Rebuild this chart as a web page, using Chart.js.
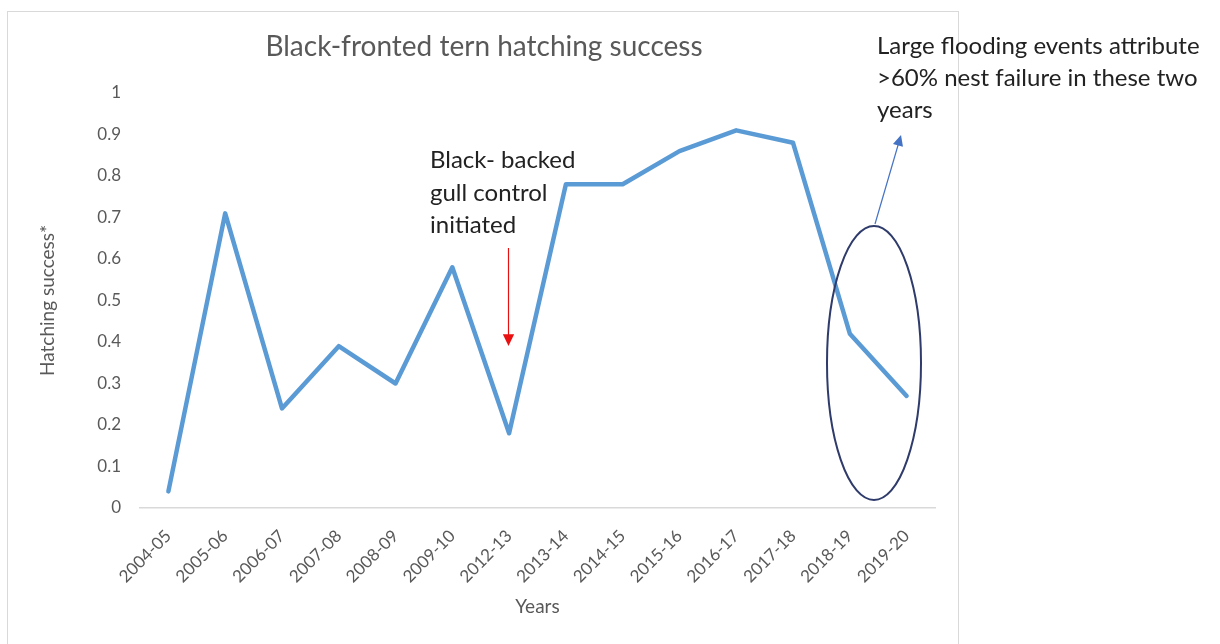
<!DOCTYPE html>
<html>
<head>
<meta charset="utf-8">
<script src="https://cdn.jsdelivr.net/npm/chart.js@4.4.1/dist/chart.umd.min.js"></script>
<style>
  html, body { margin: 0; padding: 0; background: #fff; }
  #wrap { width: 1220px; height: 644px; }
</style>
</head>
<body>
<div id="wrap"><canvas id="ternChart" width="1220" height="644"></canvas></div>
<script>
const seasons = ['2004-05', '2005-06', '2006-07', '2007-08', '2008-09', '2009-10', '2012-13',
                 '2013-14', '2014-15', '2015-16', '2016-17', '2017-18', '2018-19', '2019-20'];
const hatchingSuccess = [0.04, 0.71, 0.24, 0.39, 0.30, 0.58, 0.18, 0.78, 0.78, 0.86, 0.91, 0.88, 0.42, 0.27];
const yTicks = [0, 0.1, 0.2, 0.3, 0.4, 0.5, 0.6, 0.7, 0.8, 0.9, 1];

const FONT = 'Lato, "Open Sans", sans-serif';
const GREY = '#595959';

function arrow(ctx, x1, y1, x2, y2, color, head) {
    const a = Math.atan2(y2 - y1, x2 - x1);
    ctx.save();
    ctx.strokeStyle = color;
    ctx.fillStyle = color;
    ctx.lineWidth = 1.2;
    ctx.beginPath();
    ctx.moveTo(x1, y1);
    ctx.lineTo(x2 - Math.cos(a) * head * 0.8, y2 - Math.sin(a) * head * 0.8);
    ctx.stroke();
    ctx.beginPath();
    ctx.moveTo(x2, y2);
    ctx.lineTo(x2 - head * Math.cos(a - 0.45), y2 - head * Math.sin(a - 0.45));
    ctx.lineTo(x2 - head * Math.cos(a + 0.45), y2 - head * Math.sin(a + 0.45));
    ctx.closePath();
    ctx.fill();
    ctx.restore();
}

function lines(ctx, list, x, y, step) {
    list.forEach((t, i) => ctx.fillText(t, x, y + i * step));
}

// frame, title and the two call-outs
const notes = {
    id: 'notes',
    beforeDraw(chart) {
        const ctx = chart.ctx;
        ctx.save();
        ctx.strokeStyle = '#d9d9d9';
        ctx.lineWidth = 1;
        ctx.strokeRect(7.5, 11.5, 951, 700);
        ctx.restore();
    },
    afterDraw(chart) {
        const ctx = chart.ctx;
        ctx.save();
        ctx.fillStyle = GREY;
        ctx.font = '28px ' + FONT;
        ctx.textAlign = 'center';
        ctx.textBaseline = 'middle';
        ctx.fillText('Black-fronted tern hatching success', 484, 47);

        ctx.fillStyle = '#222';
        ctx.font = '24px ' + FONT;
        ctx.textAlign = 'left';
        ctx.textBaseline = 'alphabetic';
        lines(ctx, ['Black- backed', 'gull control', 'initiated'], 430, 168, 32.5);
        lines(ctx, ['Large flooding events attribute', '>60% nest failure in these two', 'years'], 877, 54, 32);

        arrow(ctx, 508.5, 248, 508.5, 346, '#e81010', 13);
        arrow(ctx, 875, 224, 901, 135, '#4472c4', 12);

        ctx.strokeStyle = '#2e3b6b';
        ctx.lineWidth = 2;
        ctx.beginPath();
        ctx.ellipse(874, 363, 47, 137, 0, 0, Math.PI * 2);
        ctx.stroke();
        ctx.restore();
    }
};

new Chart(document.getElementById('ternChart'), {
    type: 'line',
    data: {
        labels: seasons,
        datasets: [{
            label: 'Hatching success',
            data: hatchingSuccess,
            borderColor: '#5b9bd5',
            borderWidth: 4.5,
            borderJoinStyle: 'round',
            borderCapStyle: 'round',
            pointRadius: 0,
            tension: 0,
            fill: false
        }]
    },
    options: {
        responsive: false,
        animation: false,
        layout: { padding: { left: 0, right: 285, top: 93, bottom: 0 } },
        plugins: {
            legend: { display: false },
            title: { display: false },
            tooltip: { enabled: false }
        },
        scales: {
            x: {
                offset: true,
                grid: { display: false, drawTicks: false },
                border: { display: true, color: '#d9d9d9', width: 1.5 },
                ticks: {
                    color: GREY,
                    font: { family: FONT, size: 17 },
                    minRotation: 45,
                    maxRotation: 45,
                    padding: 18
                },
                title: {
                    display: true,
                    text: 'Years',
                    color: GREY,
                    font: { family: FONT, size: 19 },
                    padding: { top: 0, bottom: 26 }
                },
                afterFit: s => { s.height = 136; }
            },
            y: {
                min: 0,
                max: 1,
                grid: { display: false, drawTicks: false },
                border: { display: false },
                afterBuildTicks: s => { s.ticks = yTicks.map(v => ({ value: v })); },
                ticks: {
                    color: GREY,
                    font: { family: FONT, size: 17 },
                    padding: 19,
                    callback: v => String(+v.toFixed(1))
                },
                title: {
                    display: true,
                    text: 'Hatching success*',
                    color: GREY,
                    font: { family: FONT, size: 19 },
                    padding: { top: 36, bottom: 0 }
                },
                afterFit: s => { s.width = 140; }
            }
        }
    },
    plugins: [notes]
});
</script>
</body>
</html>
